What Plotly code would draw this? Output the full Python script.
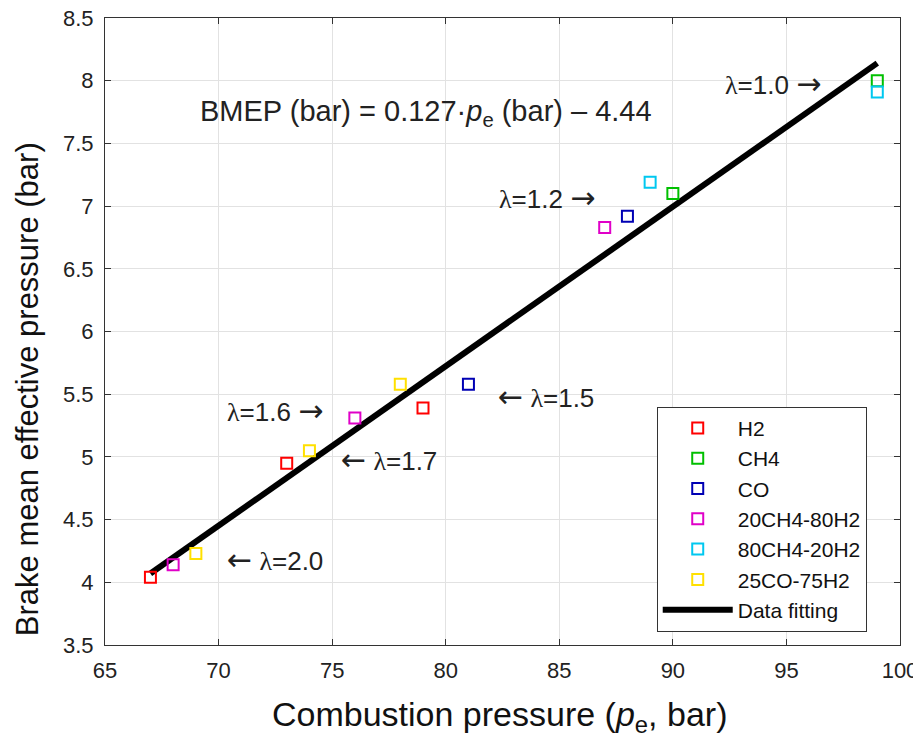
import plotly.graph_objects as go

# ---------------- Data ----------------

fuels = ["H2", "CH4", "CO", "20CH4-80H2", "80CH4-20H2", "25CO-75H2"]
colors = ["#ff0000", "#00c000", "#0000b4", "#e000c8", "#00c8f0", "#ffe000"]

h2_x = [67, 73, 79]
h2_y = [4.04, 4.95, 5.39]
ch4_x = [90, 99]
ch4_y = [7.10, 8.00]
co_x = [81, 88]
co_y = [5.58, 6.92]
ch4h2_x = [68, 76, 87]
ch4h2_y = [4.14, 5.31, 6.83]
h2ch4_x = [89, 99]
h2ch4_y = [7.19, 7.91]
coh2_x = [69, 74, 78]
coh2_y = [4.23, 5.05, 5.58]

fit_x = [67, 99]
fit_y = [4.07, 8.14]

lam_values = ["1.0", "1.2", "1.6", "1.7", "2.0", "1.5"]
arrow_right = [True, True, True, False, False, False]
label_x = [94.4, 84.45, 72.47, 77.49, 72.47, 84.4]
label_y = [7.98, 7.07, 5.37, 4.98, 4.18, 5.48]

xs = [h2_x, ch4_x, co_x, ch4h2_x, h2ch4_x, coh2_x]
ys = [h2_y, ch4_y, co_y, ch4h2_y, h2ch4_y, coh2_y]

FONT = "Liberation Sans, Arial, sans-serif"
LAM = '<span style="font-family:Liberation Serif">λ</span>'
RARR = '<span style="font-family:DejaVu Sans;font-size:30px">→</span>'
LARR = '<span style="font-family:DejaVu Sans;font-size:30px">←</span>'

fig = go.Figure()

# ---------------- Fit line ----------------

fig.add_trace(
    go.Scatter(
        x=fit_x,
        y=fit_y,
        mode="lines",
        name="Data fitting",
        legendgroup="fit",
        legendrank=10,
        line=dict(color="black", width=6),
    )
)

# ---------------- Fuels ----------------

for i, (name, c) in enumerate(zip(fuels, colors)):
    fig.add_trace(
        go.Scatter(
            x=xs[i],
            y=ys[i],
            mode="markers",
            name=name,
            legendgroup=name,
            legendrank=i + 1,
            marker=dict(
                symbol="square-open",
                size=11,
                color=c,
                line=dict(color=c, width=2),
            ),
        )
    )

# ---------------- Annotations ----------------

for v, right, ax, ay in zip(lam_values, arrow_right, label_x, label_y):
    if right:
        t = f"{LAM}={v} {RARR}"
    else:
        t = f"{LARR} {LAM}={v}"
    fig.add_annotation(
        x=ax, y=ay, text=t, showarrow=False,
        font=dict(size=26, color="#222222", family=FONT),
    )

fig.add_annotation(
    x=79.12, y=7.74,
    text="BMEP (bar) = 0.127·<i>p</i><sub>e</sub> (bar) – 4.44",
    showarrow=False,
    font=dict(size=29, color="#222222", family=FONT),
)

# axis titles
fig.add_annotation(
    xref="paper", yref="paper", x=0.4965, y=0, yshift=-71,
    text="Combustion pressure (<i>p</i><sub>e</sub>, bar)",
    showarrow=False, xanchor="center", yanchor="middle",
    font=dict(size=34, color="#111111", family=FONT),
)
fig.add_annotation(
    xref="paper", yref="paper", x=0, xshift=-78, y=0.408,
    text="Brake mean effective pressure (bar)",
    textangle=-90,
    showarrow=False, xanchor="center", yanchor="middle",
    font=dict(size=31, color="#111111", family=FONT),
)

axis_style = dict(
    showline=True,
    linecolor="#333333",
    linewidth=1,
    mirror="ticks",
    ticks="inside",
    ticklen=6,
    tickcolor="#333333",
    showgrid=True,
    gridcolor="#e2e2e2",
    zeroline=False,
    automargin=False,
    ticklabelstandoff=6,
    ticklabeloverflow="allow",
    tickfont=dict(size=22, color="#222222", family=FONT),
)

fig.update_xaxes(range=[65, 100], dtick=5, **axis_style)
fig.update_yaxes(range=[3.5, 8.5], dtick=0.5, **axis_style)

# page body has an 8px margin, so the figure is drawn 8px smaller
fig.update_layout(
    width=913,
    height=729,
    plot_bgcolor="white",
    paper_bgcolor="white",
    margin=dict(l=97, r=21, t=10, b=92),
    legend=dict(
        x=0.694,
        y=0.38,
        xanchor="left",
        yanchor="top",
        bgcolor="white",
        bordercolor="#333333",
        borderwidth=1,
        tracegroupgap=0,
        itemwidth=70,
        font=dict(size=21, color="#111111", family=FONT),
    ),
)

fig.write_html("out.html")
